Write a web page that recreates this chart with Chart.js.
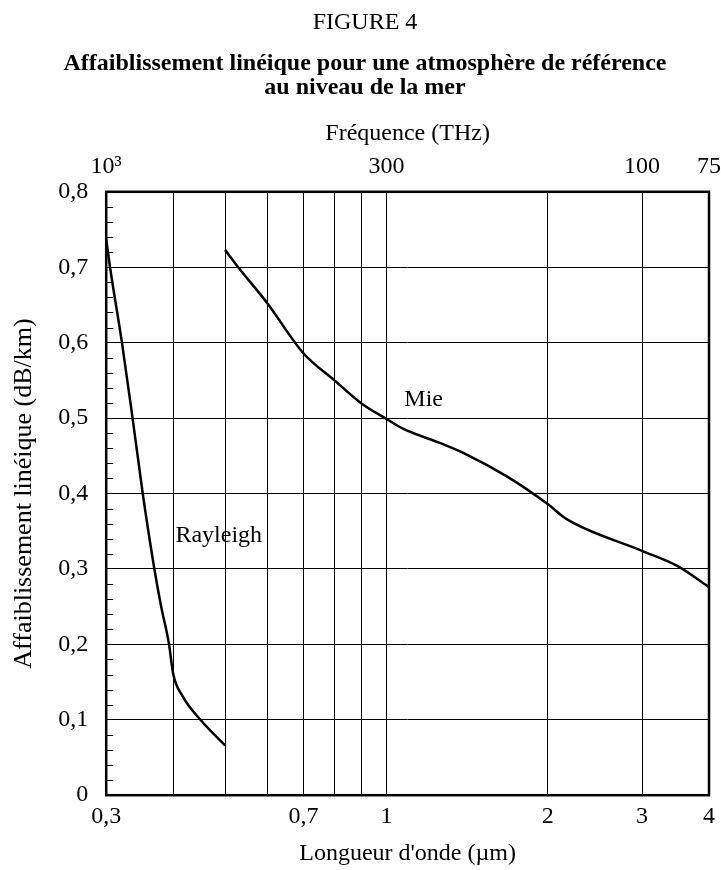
<!DOCTYPE html>
<html lang="fr">
<head>
<meta charset="UTF-8" />
<title>Figure 4</title>
<script src="https://cdn.jsdelivr.net/npm/chart.js@4.4.1/dist/chart.umd.min.js"></script>
<style>
  body { margin: 0; background: #fff; }
</style>
</head>
<body>
<canvas id="myChart" width="721" height="870"></canvas>
<script>
// Rayleigh curve (wavelength in µm, attenuation in dB/km)
const rayleighWl = [0.3, 0.305, 0.321, 0.336, 0.351, 0.369, 0.38, 0.393, 0.4, 0.416, 0.451, 0.5];
const rayleighAtt = [0.737, 0.70, 0.60, 0.50, 0.40, 0.30, 0.25, 0.20, 0.161, 0.132, 0.099, 0.066];

// Mie curve
const mieWl = [0.5, 0.529, 0.6, 0.7, 0.8, 0.9, 1.0, 1.074, 1.258, 1.40, 1.675, 2.0, 2.17, 3.0, 3.49, 4.0];
const mieAtt = [0.723, 0.70, 0.652, 0.586, 0.55, 0.519, 0.499, 0.486, 0.467, 0.453, 0.423, 0.386, 0.366, 0.324, 0.304, 0.276];

// axes
const wlTicks = [0.3, 0.4, 0.5, 0.6, 0.7, 0.8, 0.9, 1, 2, 3, 4];
const wlLabels = ["0,3", "", "", "", "0,7", "", "", "1", "2", "3", "4"];
const freqTicks = [1000, 300, 100, 75]; // THz
const freqLabels = ["10\u00b3", "300", "100", "75"];
const attTicks = [0, 0.1, 0.2, 0.3, 0.4, 0.5, 0.6, 0.7, 0.8];
const attLabels = ["0", "0,1", "0,2", "0,3", "0,4", "0,5", "0,6", "0,7", "0,8"];
const attMinor = [0.02, 0.04, 0.06, 0.08, 0.12, 0.14, 0.16, 0.18, 0.22, 0.24, 0.26, 0.28,
  0.32, 0.34, 0.36, 0.38, 0.42, 0.44, 0.46, 0.48, 0.52, 0.54, 0.56, 0.58,
  0.62, 0.64, 0.66, 0.68, 0.72, 0.74, 0.76, 0.78];

// curve names and where they sit (data coords)
const curveNames = ["Rayleigh", "Mie"];
const curveNameWl = [0.404, 1.08];
const curveNameAtt = [0.344, 0.525];

const serif = "'Liberation Serif', 'Times New Roman', serif";
const ctx = document.getElementById("myChart");

const framePlugin = {
  id: "frame",
  beforeDatasetsDraw(chart) {
    const { ctx, chartArea: a, scales } = chart;
    ctx.save();
    ctx.strokeStyle = "#000";
    // minor ticks inside left edge
    ctx.lineWidth = 1;
    attMinor.forEach((v) => {
      const y = Math.round(scales.y.getPixelForValue(v)) + 0.5;
      ctx.beginPath();
      ctx.moveTo(a.left, y);
      ctx.lineTo(a.left + 7, y);
      ctx.stroke();
    });
    ctx.lineWidth = 2.5;
    ctx.strokeRect(a.left, a.top, a.right - a.left, a.bottom - a.top);
    ctx.restore();
  },
  afterDatasetsDraw(chart) {
    const { ctx, scales } = chart;
    ctx.save();
    ctx.fillStyle = "#000";
    ctx.font = "24px " + serif;
    ctx.textBaseline = "middle";
    curveNames.forEach((name, i) => {
      ctx.fillText(name, scales.x.getPixelForValue(curveNameWl[i]), scales.y.getPixelForValue(curveNameAtt[i]));
    });
    ctx.restore();
  },
};

new Chart(ctx, {
  type: "line",
  data: {
    datasets: [
      {
        label: "Rayleigh",
        data: rayleighWl.map((x, i) => ({ x, y: rayleighAtt[i] })),
        borderColor: "#000",
        borderWidth: 2.5,
        pointRadius: 0,
        cubicInterpolationMode: "monotone",
      },
      {
        label: "Mie",
        data: mieWl.map((x, i) => ({ x, y: mieAtt[i] })),
        borderColor: "#000",
        borderWidth: 2.5,
        pointRadius: 0,
        cubicInterpolationMode: "monotone",
      },
    ],
  },
  options: {
    responsive: false,
    animation: false,
    layout: { padding: { top: 8, right: 0, left: 9, bottom: 2 } },
    plugins: {
      legend: { display: false },
      tooltip: { enabled: false },
      title: {
        display: true,
        text: "FIGURE 4",
        color: "#000",
        font: { family: serif, size: 24, weight: "normal" },
        padding: { top: 0, bottom: 15 },
      },
      subtitle: {
        display: true,
        text: ["Affaiblissement linéique pour une atmosphère de référence", "au niveau de la mer"],
        color: "#000",
        font: { family: serif, size: 24, weight: "bold", lineHeight: 1.0 },
        padding: { top: 0, bottom: 22 },
      },
    },
    scales: {
      x: {
        type: "logarithmic",
        min: 0.3,
        max: 4,
        afterBuildTicks: (s) => { s.ticks = wlTicks.map((v) => ({ value: v })); },
        ticks: {
          autoSkip: false,
          maxRotation: 0,
          color: "#000",
          padding: 0,
          font: { family: serif, size: 24, lineHeight: 1.0 },
          callback: (v, i) => wlLabels[i],
        },
        grid: { color: "#000", lineWidth: 1, drawTicks: true, tickLength: 10, tickColor: "transparent" },
        border: { display: false },
        title: {
          display: true,
          text: "Longueur d'onde (µm)",
          color: "#000",
          font: { family: serif, size: 24 },
          padding: { top: 10, bottom: 0 },
        },
      },
      x2: {
        type: "logarithmic",
        position: "top",
        min: 0.3,
        max: 4,
        afterBuildTicks: (s) => { s.ticks = freqTicks.map((f) => ({ value: 300 / f })); },
        ticks: {
          autoSkip: false,
          maxRotation: 0,
          color: "#000",
          padding: 0,
          font: { family: serif, size: 24, lineHeight: 1.0 },
          callback: (v, i) => freqLabels[i],
        },
        grid: { display: false, drawTicks: true, tickLength: 13 },
        border: { display: false },
        title: {
          display: true,
          text: "Fréquence (THz)",
          color: "#000",
          font: { family: serif, size: 24, lineHeight: 1.0 },
          padding: { top: 0, bottom: 9 },
        },
      },
      y: {
        type: "linear",
        min: 0,
        max: 0.8,
        afterBuildTicks: (s) => { s.ticks = attTicks.map((v) => ({ value: v })); },
        ticks: {
          color: "#000",
          padding: 18,
          font: { family: serif, size: 24 },
          callback: (v, i) => attLabels[i],
        },
        grid: { color: "#000", lineWidth: 1, drawTicks: false },
        border: { display: false },
        title: {
          display: true,
          text: "Affaiblissement linéique (dB/km)",
          color: "#000",
          font: { family: serif, size: 26 },
          padding: { top: 0, bottom: 0 },
        },
      },
    },
  },
  plugins: [framePlugin],
});
</script>
</body>
</html>
